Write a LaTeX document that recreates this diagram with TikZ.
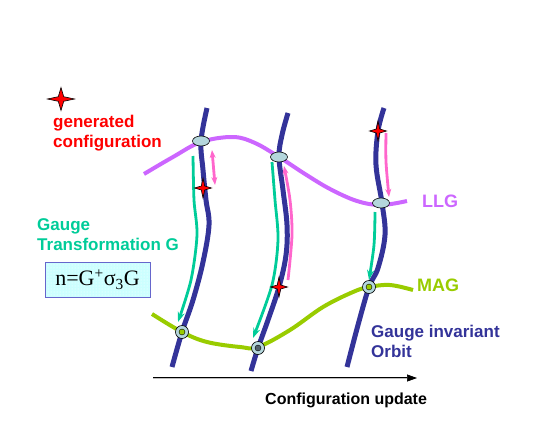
\documentclass[tikz,border=0pt]{standalone}
\usepackage{fontspec}
\setmainfont{Liberation Sans}
\newfontfamily\formfont{Liberation Serif}
\usetikzlibrary{arrows.meta, positioning, shapes.geometric, patterns}
\definecolor{orbitblue}{HTML}{333399}
\definecolor{llgviolet}{HTML}{CC66FF}
\definecolor{maggreen}{HTML}{99CC00}
\definecolor{gaugeteal}{HTML}{00CC99}
\definecolor{flowpink}{HTML}{FF66CC}
\definecolor{pointfill}{HTML}{B4D6DC}
\definecolor{boxcyan}{HTML}{CCFFFF}
\definecolor{boxedge}{HTML}{6666CC}

\tikzset{
  gstar/.pic={\draw[fill=red, line width=0.6pt, line join=miter]
    (0,-10) -- (2,-2) -- (10,0) -- (2,2) -- (0,10) -- (-2,2) -- (-10,0) -- (-2,-2) -- cycle;},
  orbit/.style={orbitblue, line width=5pt},
  llgline/.style={llgviolet, line width=4pt},
  magline/.style={maggreen, line width=4pt},
  gaugearrow/.style={gaugeteal, line width=2.8pt, -{Stealth[length=10pt, width=7pt]}},
  flowarrow/.style={flowpink, line width=2.8pt, -{Stealth[length=8pt, width=6pt]}},
  llgpt/.style={ellipse, draw=black, fill=pointfill, line width=0.6pt,
    minimum width=17pt, minimum height=10pt, inner sep=0pt},
  magpt/.style={circle, draw=black, fill=pointfill, line width=0.6pt,
    minimum size=13pt, inner sep=0pt},
  label17/.style={font=\bfseries\fontsize{17}{20}\selectfont, align=left, inner sep=0pt},
  formula/.style={draw=boxedge, line width=1pt, preaction={fill=boxcyan},
    pattern=dots, pattern color=white, minimum width=105pt, minimum height=35pt,
    font=\formfont\fontsize{22}{24}\selectfont}
}

\begin{document}
\begin{tikzpicture}[x=1pt, y=-1pt]
  \useasboundingbox (0,0) rectangle (553,436);

  % Gauge invariant orbits
  \draw[orbit] plot[smooth, tension=0.6] coordinates {(207,108) (201,141) (203,170) (206,200)
    (209,225) (203,262) (193,300) (182,332) (172,367)};
  \draw[orbit] plot[smooth, tension=0.6] coordinates {(288,113) (282,135) (279,157) (283,190)
    (287,225) (286,255) (279,287) (268,320) (258,348) (251,371)};
  \draw[orbit] plot[smooth, tension=0.6] coordinates {(384,108) (378,131) (376,165) (382,203)
    (385,235) (378,268) (369,287) (358,325) (347,367)};

  % LLG and MAG surfaces
  \draw[llgline] plot[smooth, tension=0.6] coordinates {(144,174) (173,157) (201,142) (233,137)
    (255,143) (279,157) (305,174) (330,189) (357,201) (381,205) (407,201)};
  \draw[magline] plot[smooth, tension=0.6] coordinates {(152,314) (182,332) (207,342) (240,347)
    (258,347) (290,330) (323,307) (353,292) (369,287) (390,285) (413,290)};

  % Gauge transformations (teal)
  \coordinate (g1a) at (193,156);
  \coordinate (g1b) at (178,322);
  \coordinate (g2a) at (272,162);
  \coordinate (g2b) at (253,338);
  \coordinate (g3a) at (375,212);
  \coordinate (g3b) at (369,280);
  \draw[gaugearrow] plot[smooth] coordinates {(g1a) (194,200) (197,235) (191,280) (g1b)};
  \draw[gaugearrow] plot[smooth] coordinates {(g2a) (275,200) (278,240) (272,285) (g2b)};
  \draw[gaugearrow] plot[smooth] coordinates {(g3a) (374,245) (g3b)};

  % LLG flow (pink)
  \coordinate (p1a) at (212,150);
  \coordinate (p1b) at (215,185);
  \coordinate (p2a) at (288,280);
  \coordinate (p2b) at (284,166);
  \coordinate (p3a) at (386,133);
  \coordinate (p3b) at (389,197);
  \draw[flowarrow, {Stealth[length=8pt, width=6pt]}-{Stealth[length=8pt, width=6pt]}] (p1a) -- (p1b);
  \draw[flowarrow] plot[smooth] coordinates {(p2a) (292,235) (290,200) (p2b)};
  \draw[flowarrow] plot[smooth] coordinates {(p3a) (386,162) (p3b)};

  % points on LLG
  \node[llgpt] (l1) at (201,141) {};
  \node[llgpt] (l2) at (279,157) {};
  \node[llgpt] (l3) at (381,203) {};

  % points on MAG
  \node[magpt] (m1) at (182,332) {};
  \node[magpt] (m2) at (258,348) {};
  \node[magpt] (m3) at (369,287) {};
  \fill[maggreen, draw=black, line width=0.4pt] (m1) circle (3);
  \fill[orbitblue!70!maggreen, draw=black, line width=0.4pt] (m2) circle (3);
  \fill[maggreen, draw=black, line width=0.4pt] (m3) circle (3);

  % generated configurations
  \coordinate (s0) at (61,99);
  \coordinate (s1) at (203,188);
  \coordinate (s2) at (279,287);
  \coordinate (s3) at (378,131);
  \pic[xscale=1.35, yscale=1.15] at (s0) {gstar};
  \foreach \p in {s1,s2,s3}
    \pic[xscale=0.85] at (\p) {gstar};

  % Labels
  \node[label17, red, anchor=north west] (gen) at (53,115) {generated\\configuration};
  \node[label17, gaugeteal, anchor=north west] (gauge) at (37,218) {Gauge\\Transformation G};
  \node[formula] (form) at (97.5,279.5) {n=G\textsuperscript{+}σ\textsubscript{3}G};
  \node[label17, orbitblue, anchor=north west] (orb) at (371,325) {Gauge invariant\\Orbit};
  \node[font=\bfseries\fontsize{18}{20}\selectfont, llgviolet] (llg) at (440,201.5) {LLG};
  \node[font=\bfseries\fontsize{18}{20}\selectfont, maggreen] (mag) at (438,285) {MAG};

  % Configuration update
  \coordinate (u0) at (153,378);
  \coordinate (u1) at (417,378);
  \draw[line width=0.7pt, double=gray!50, double distance=0.8pt,
    -{Triangle[length=10pt, width=7pt]}] (u0) -- (u1);
  \node[font=\bfseries\fontsize{16}{18}\selectfont, anchor=north west, inner sep=0pt]
    (upd) at (265,393) {Configuration update};
\end{tikzpicture}
\end{document}
